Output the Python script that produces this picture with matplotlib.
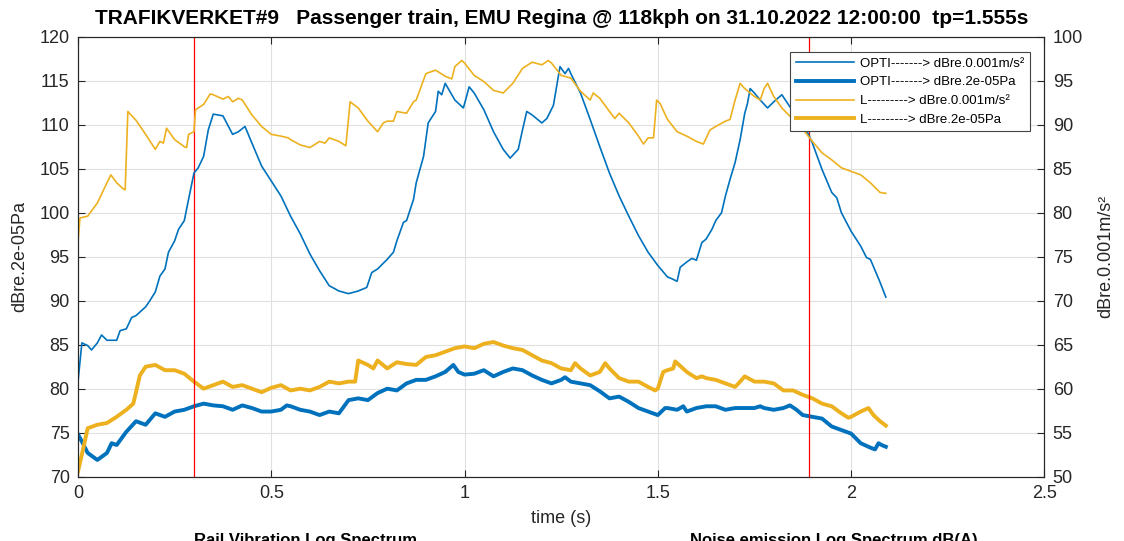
import numpy as np
import matplotlib
matplotlib.use("Agg")
import matplotlib.pyplot as plt

plt.rcParams['font.family'] = ['Liberation Sans', 'DejaVu Sans']

# ---- data (time in s, levels in dB) ----
# thin lines: vibration, right axis (dBre.0.001m/s2), stored here in left-axis units then shifted
t_opti_vib = [0.0, 0.01, 0.025, 0.035, 0.05, 0.061, 0.075, 0.1, 0.109, 0.125, 0.139, 0.15, 0.165, 0.175,
              0.186, 0.2, 0.212, 0.225, 0.234, 0.25, 0.26, 0.275, 0.286, 0.3, 0.311, 0.325, 0.337, 0.35,
              0.375, 0.4, 0.415, 0.432, 0.45, 0.475, 0.5, 0.525, 0.55, 0.575, 0.6, 0.625, 0.65, 0.675,
              0.7, 0.725, 0.747, 0.76, 0.775, 0.8, 0.816, 0.825, 0.842, 0.85, 0.868, 0.875, 0.894, 0.906,
              0.925, 0.932, 0.941, 0.95, 0.975, 0.997, 1.012, 1.025, 1.05, 1.075, 1.1, 1.118, 1.139,
              1.15, 1.161, 1.175, 1.2, 1.213, 1.23, 1.247, 1.26, 1.269, 1.275, 1.3, 1.325, 1.35, 1.375,
              1.4, 1.425, 1.45, 1.475, 1.5, 1.525, 1.536, 1.55, 1.558, 1.575, 1.588, 1.6, 1.614, 1.625,
              1.64, 1.65, 1.665, 1.675, 1.687, 1.7, 1.713, 1.725, 1.732, 1.739, 1.75, 1.765, 1.784, 1.8,
              1.821, 1.85, 1.875, 1.89, 1.9, 1.925, 1.95, 1.963, 1.975, 2.0, 2.025, 2.04, 2.05, 2.075, 2.09]
opti_vib = [80.8, 85.2, 84.9, 84.4, 85.2, 86.1, 85.5, 85.5, 86.6, 86.8, 88.1, 88.3, 88.9, 89.3,
            90.0, 91.0, 92.8, 93.6, 95.5, 96.8, 98.1, 99.1, 101.5, 104.5, 105.1, 106.4, 109.4, 111.2,
            111.0, 108.9, 109.2, 109.8, 107.9, 105.3, 103.6, 101.9, 99.6, 97.6, 95.3, 93.4, 91.7, 91.1,
            90.8, 91.1, 91.5, 93.2, 93.6, 94.7, 95.5, 96.8, 98.9, 99.1, 101.5, 103.4, 106.4, 110.2,
            111.5, 113.8, 113.4, 114.7, 112.8, 111.9, 114.3, 113.6, 111.7, 109.2, 107.2, 106.2, 107.2,
            109.4, 111.5, 111.1, 110.2, 110.7, 112.2, 116.6, 115.8, 116.4, 115.8, 113.6, 110.6, 107.5, 104.5,
            101.9, 99.6, 97.4, 95.5, 94.0, 92.7, 92.5, 92.2, 93.8, 94.4, 94.8, 94.6, 96.6, 97.0,
            98.1, 99.1, 100.0, 101.9, 103.8, 105.7, 108.3, 111.3, 112.4, 114.1, 113.6, 112.8, 111.9, 112.6,
            113.4, 111.5, 110.0, 108.9, 107.9, 104.9, 102.3, 101.7, 100.0, 97.9, 96.2, 94.9, 94.7, 92.1, 90.4]

t_l_vib = [0.0, 0.005, 0.025, 0.05, 0.075, 0.085, 0.1, 0.117, 0.122, 0.129, 0.15, 0.175, 0.2, 0.212,
           0.221, 0.229, 0.25, 0.275, 0.281, 0.286, 0.3, 0.304, 0.325, 0.342, 0.35, 0.375, 0.389, 0.4,
           0.415, 0.425, 0.45, 0.475, 0.5, 0.525, 0.544, 0.55, 0.575, 0.6, 0.625, 0.639, 0.65, 0.675,
           0.693, 0.704, 0.725, 0.75, 0.775, 0.79, 0.8, 0.816, 0.825, 0.85, 0.868, 0.875, 0.9, 0.925,
           0.95, 0.967, 0.975, 0.993, 1.0, 1.025, 1.05, 1.075, 1.1, 1.125, 1.15, 1.175, 1.2, 1.217,
           1.225, 1.25, 1.275, 1.3, 1.325, 1.333, 1.35, 1.375, 1.389, 1.4, 1.425, 1.45, 1.463, 1.475,
           1.489, 1.497, 1.506, 1.525, 1.55, 1.575, 1.6, 1.618, 1.635, 1.65, 1.675, 1.687, 1.7, 1.713,
           1.725, 1.75, 1.765, 1.775, 1.784, 1.8, 1.821, 1.85, 1.875, 1.9, 1.925, 1.95, 1.975, 2.0,
           2.025, 2.05, 2.075, 2.09]
l_vib = [96.6, 99.4, 99.6, 101.1, 103.4, 104.3, 103.4, 102.7, 102.6, 111.5, 110.5, 108.9, 107.2, 108.1,
         107.9, 109.6, 108.3, 107.5, 107.4, 108.9, 109.2, 111.7, 112.3, 113.5, 113.4, 112.9, 113.2, 112.6,
         113.0, 112.8, 111.1, 109.8, 108.9, 108.7, 108.5, 108.3, 107.7, 107.4, 108.1, 107.9, 108.5, 108.1,
         107.6, 112.6, 111.9, 110.4, 109.2, 110.2, 110.4, 110.4, 111.5, 111.3, 112.6, 112.8, 115.8, 116.2,
         115.5, 115.2, 116.6, 117.3, 117.0, 115.6, 114.9, 113.9, 113.6, 114.7, 116.4, 117.1, 116.8, 117.3,
         117.0, 115.6, 115.3, 113.8, 112.8, 113.6, 113.0, 111.5, 110.7, 111.3, 110.2, 108.7, 107.8, 108.5,
         108.5, 112.8, 112.4, 110.6, 109.2, 108.7, 108.1, 107.8, 109.4, 109.8, 110.4, 110.6, 112.8, 114.7,
         114.1, 113.2, 112.8, 114.1, 114.7, 113.2, 111.9, 110.6, 109.5, 108.1, 106.8, 106.0, 105.1, 104.7,
         104.3, 103.4, 102.3, 102.2]

# thick lines: noise, left axis (dBre.2e-05Pa)
t_opti_pa = [0.0, 0.01, 0.025, 0.05, 0.075, 0.087, 0.1, 0.125, 0.15, 0.175, 0.2, 0.225, 0.25, 0.275,
             0.3, 0.325, 0.35, 0.375, 0.4, 0.425, 0.45, 0.475, 0.5, 0.525, 0.54, 0.55, 0.575, 0.6,
             0.625, 0.65, 0.675, 0.7, 0.725, 0.75, 0.775, 0.8, 0.825, 0.85, 0.875, 0.9, 0.925, 0.95,
             0.971, 0.984, 1.0, 1.025, 1.05, 1.075, 1.1, 1.125, 1.15, 1.175, 1.2, 1.225, 1.25, 1.26,
             1.275, 1.3, 1.325, 1.35, 1.375, 1.4, 1.425, 1.45, 1.475, 1.5, 1.519, 1.525, 1.55, 1.566,
             1.575, 1.6, 1.625, 1.65, 1.675, 1.7, 1.725, 1.75, 1.765, 1.775, 1.8, 1.825, 1.842, 1.859,
             1.875, 1.9, 1.925, 1.95, 1.975, 2.0, 2.025, 2.05, 2.062, 2.071, 2.079, 2.09]
opti_pa = [74.8, 74.0, 72.7, 71.9, 72.7, 73.8, 73.6, 75.1, 76.3, 75.9, 77.2, 76.8, 77.4, 77.6,
           78.0, 78.3, 78.1, 78.0, 77.6, 78.1, 77.8, 77.4, 77.4, 77.6, 78.1, 78.0, 77.6, 77.4,
           77.0, 77.4, 77.2, 78.7, 78.9, 78.7, 79.5, 80.0, 79.8, 80.6, 81.0, 81.0, 81.4, 81.9,
           82.7, 81.9, 81.6, 81.7, 82.1, 81.4, 81.9, 82.3, 82.1, 81.5, 81.0, 80.6, 81.0, 81.3,
           80.8, 80.6, 80.4, 79.7, 78.9, 79.1, 78.5, 77.8, 77.4, 77.0, 77.8, 77.8, 77.6, 78.0,
           77.4, 77.8, 78.0, 78.0, 77.6, 77.8, 77.8, 77.8, 78.0, 77.8, 77.6, 77.8, 78.1, 77.6,
           77.0, 76.8, 76.6, 75.7, 75.3, 74.9, 73.8, 73.3, 73.1, 73.8, 73.6, 73.4]

t_l_pa = [0.0, 0.014, 0.025, 0.05, 0.075, 0.1, 0.125, 0.143, 0.15, 0.16, 0.175, 0.2, 0.225, 0.25,
          0.275, 0.3, 0.325, 0.35, 0.375, 0.4, 0.425, 0.45, 0.475, 0.5, 0.525, 0.55, 0.575, 0.6,
          0.625, 0.65, 0.675, 0.7, 0.717, 0.725, 0.75, 0.764, 0.775, 0.8, 0.825, 0.85, 0.875, 0.9,
          0.925, 0.95, 0.975, 1.0, 1.025, 1.05, 1.075, 1.1, 1.125, 1.15, 1.175, 1.2, 1.225, 1.25,
          1.275, 1.286, 1.3, 1.325, 1.35, 1.364, 1.375, 1.4, 1.425, 1.45, 1.475, 1.493, 1.5, 1.514,
          1.525, 1.54, 1.545, 1.55, 1.575, 1.6, 1.614, 1.625, 1.65, 1.675, 1.7, 1.713, 1.725, 1.75,
          1.775, 1.8, 1.825, 1.85, 1.875, 1.9, 1.925, 1.95, 1.975, 1.993, 2.0, 2.025, 2.045, 2.058,
          2.075, 2.09]
l_pa = [70.6, 73.3, 75.5, 75.9, 76.1, 76.8, 77.6, 78.3, 79.6, 81.5, 82.5, 82.7, 82.1, 82.1,
        81.7, 80.8, 80.0, 80.4, 80.8, 80.2, 80.4, 80.0, 79.6, 80.1, 80.4, 79.8, 80.0, 79.8,
        80.2, 80.8, 80.6, 80.8, 80.8, 83.2, 82.7, 82.3, 83.2, 82.3, 83.0, 82.8, 82.7, 83.6,
        83.8, 84.2, 84.6, 84.8, 84.6, 85.1, 85.3, 84.9, 84.6, 84.4, 83.8, 83.2, 82.9, 82.3,
        82.1, 82.9, 82.3, 81.5, 81.9, 82.9, 82.3, 81.2, 80.8, 80.8, 80.2, 79.8, 80.0, 81.9,
        82.1, 82.3, 83.1, 82.9, 81.9, 81.2, 81.4, 81.2, 81.0, 80.6, 80.2, 80.8, 81.4, 80.8,
        80.8, 80.6, 79.8, 79.8, 79.3, 78.9, 78.3, 78.0, 77.2, 76.7, 76.8, 77.4, 77.8, 77.0,
        76.3, 75.8]

markers_t = [0.3, 1.89]
x_ticks = [0, 0.5, 1, 1.5, 2, 2.5]
x_tick_labels = ['0', '0.5', '1', '1.5', '2', '2.5']

# right axis sits 20 dB below the left one
right_offset = 20.0

blue = '#0072BD'
yellow = '#EDB120'
dark = '#262626'

fig = plt.figure(figsize=(11.24, 5.41), dpi=100)
ax1 = fig.add_axes([0.0694, 0.1189, 0.8597, 0.8133])
ax2 = ax1.twinx()

ax1.plot(t_opti_pa, opti_pa, color=blue, lw=2.8, label='OPTI-------> dBre.2e-05Pa')
ax1.plot(t_l_pa, l_pa, color=yellow, lw=2.8, label='L---------> dBre.2e-05Pa')
for tm in markers_t:
    ax1.axvline(tm, color='red', lw=0.9)

ax2.plot(t_opti_vib, np.array(opti_vib) - right_offset, color=blue, lw=1.2,
         label='OPTI-------> dBre.0.001m/s²')
ax2.plot(t_l_vib, np.array(l_vib) - right_offset, color=yellow, lw=1.2,
         label='L---------> dBre.0.001m/s²')

ax1.set_xlim(0, 2.5)
ax1.set_ylim(70, 120)
ax2.set_ylim(50, 100)
ax1.set_xticks(x_ticks)
ax1.set_xticklabels(x_tick_labels)
ax1.set_yticks(np.arange(70, 121, 5))
ax2.set_yticks(np.arange(50, 101, 5))

ax1.grid(True, color='#e0e0e0', lw=0.8)
ax1.set_axisbelow(True)
ax1.tick_params(direction='in', top=True, right=False, length=5, labelsize=13, colors=dark, pad=6)
ax2.tick_params(direction='in', length=5, labelsize=13, colors=dark, pad=6)
for ax in (ax1, ax2):
    for sp in ax.spines.values():
        sp.set_color(dark)
        sp.set_linewidth(0.8)

ax1.set_xlabel('time (s)', fontsize=13, color=dark, labelpad=6)
ax1.set_ylabel('dBre.2e-05Pa', fontsize=13, color=dark, labelpad=8)
ax2.set_ylabel('dBre.0.001m/s²', fontsize=13, color=dark, labelpad=10)

h1, l1 = ax1.get_legend_handles_labels()
h2, l2 = ax2.get_legend_handles_labels()
handles = [h2[0], h1[0], h2[1], h1[1]]
labels = [l2[0], l1[0], l2[1], l1[1]]
leg = ax2.legend(handles, labels, loc='upper right', bbox_to_anchor=(0.985, 0.965),
                 borderaxespad=0, fontsize=9.5, handlelength=4.4, handletextpad=0.5,
                 fancybox=False, framealpha=1, edgecolor='#444444')
leg.get_frame().set_linewidth(0.8)

fig.text(0.4994, 0.9667, 'TRAFIKVERKET#9   Passenger train, EMU Regina @ 118kph on 31.10.2022 12:00:00  tp=1.555s',
         ha='center', va='center', fontsize=15, fontweight='bold', color='black')
fig.text(0.272, 0.0148, 'Rail Vibration Log Spectrum', ha='center', va='top',
         fontsize=12, fontweight='bold', color='black')
fig.text(0.742, 0.0148, 'Noise emission Log Spectrum dB(A)', ha='center', va='top',
         fontsize=12, fontweight='bold', color='black')

fig.savefig('out.png', dpi=100)
